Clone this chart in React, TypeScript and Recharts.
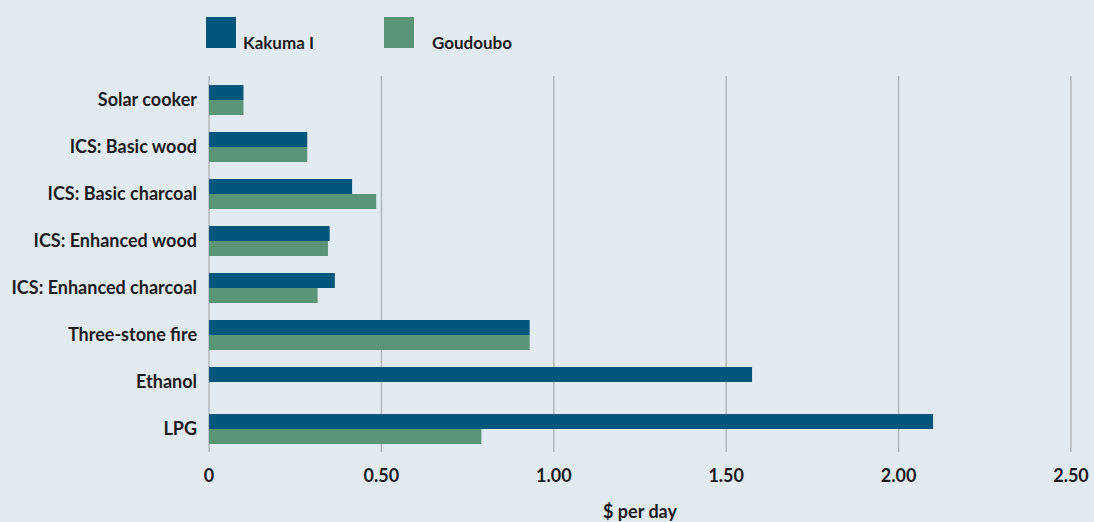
import React from "react";
import { BarChart, Bar, XAxis, YAxis, CartesianGrid, Legend } from "recharts";

const categories = [
  "Solar cooker",
  "ICS: Basic wood",
  "ICS: Basic charcoal",
  "ICS: Enhanced wood",
  "ICS: Enhanced charcoal",
  "Three-stone fire",
  "Ethanol",
  "LPG",
];
const kakuma = [0.1, 0.285, 0.415, 0.35, 0.365, 0.93, 1.575, 2.1];
const goudoubo: (number | null)[] = [0.1, 0.285, 0.485, 0.345, 0.315, 0.93, null, 0.79];
const xTicks = [0, 0.5, 1, 1.5, 2, 2.5];
const xTickLabels = ["0", "0.50", "1.00", "1.50", "2.00", "2.50"];
const seriesKeys = ["kakuma", "goudoubo"];
const seriesNames = ["Kakuma I", "Goudoubo"];

const data = categories.map((c, i) => ({ name: c, kakuma: kakuma[i], goudoubo: goudoubo[i] }));

const FONT = "Lato, 'DejaVu Sans', sans-serif";
const C1 = "#00567b";
const C2 = "#5c9477";
const BG = "#e2eaf2";
const GRID = "#b3b7bb";
const TXT = "#1b1b1b";

const LegendContent = (props: any) => {
  const raw = props.payload || [];
  const items = seriesKeys
    .map((k) => raw.find((p: any) => p.dataKey === k))
    .filter(Boolean);
  const pos = [
    { sq: 206, tx: 243 },
    { sq: 384, tx: 432 },
  ];
  return (
    <div style={{ position: "relative", width: 1094, height: 0 }}>
      {items.map((it: any, i: number) => (
        <React.Fragment key={i}>
          <div
            style={{
              position: "absolute",
              left: pos[i].sq,
              top: 17,
              width: 30,
              height: 31,
              background: it.color,
            }}
          />
          <div
            style={{
              position: "absolute",
              left: pos[i].tx,
              top: 33,
              fontFamily: FONT,
              fontWeight: 700,
              fontSize: 17,
              color: TXT,
              whiteSpace: "nowrap",
              lineHeight: "20px",
            }}
          >
            {it.value}
          </div>
        </React.Fragment>
      ))}
    </div>
  );
};

export default function App() {
  const tickStyle = { fontFamily: FONT, fontWeight: 700, fontSize: 18, fill: TXT };
  return (
    <div style={{ position: "absolute", left: 0, top: 0, width: 1094, height: 522, background: BG }}>
      <BarChart
        width={1094}
        height={522}
        data={data}
        layout="vertical"
        margin={{ top: 76, right: 23, bottom: 0, left: 9 }}
        barGap={0}
        barCategoryGap={17}
      >
        <CartesianGrid horizontal={false} vertical={true} stroke={GRID} strokeWidth={1.5} />
        <XAxis
          type="number"
          domain={[0, 2.5]}
          ticks={xTicks}
          tickFormatter={(v: number) => xTickLabels[xTicks.indexOf(v)]}
          axisLine={false}
          tickLine={false}
          tickMargin={11}
          height={70}
          tick={tickStyle}
          label={{
            value: "$ per day",
            position: "insideBottom",
            offset: 4,
            style: tickStyle,
          }}
        />
        <YAxis
          type="category"
          dataKey="name"
          width={200}
          axisLine={false}
          tickLine={false}
          tickMargin={6}
          interval={0}
          tick={tickStyle}
        />
        <Legend
          verticalAlign="middle"
          align="center"
          content={<LegendContent />}
          wrapperStyle={{ top: 0, left: 0, width: 1094, height: 0 }}
        />
        <Bar dataKey="kakuma" name={seriesNames[0]} fill={C1} barSize={15} isAnimationActive={false} />
        <Bar dataKey="goudoubo" name={seriesNames[1]} fill={C2} barSize={15} isAnimationActive={false} />
      </BarChart>
    </div>
  );
}
